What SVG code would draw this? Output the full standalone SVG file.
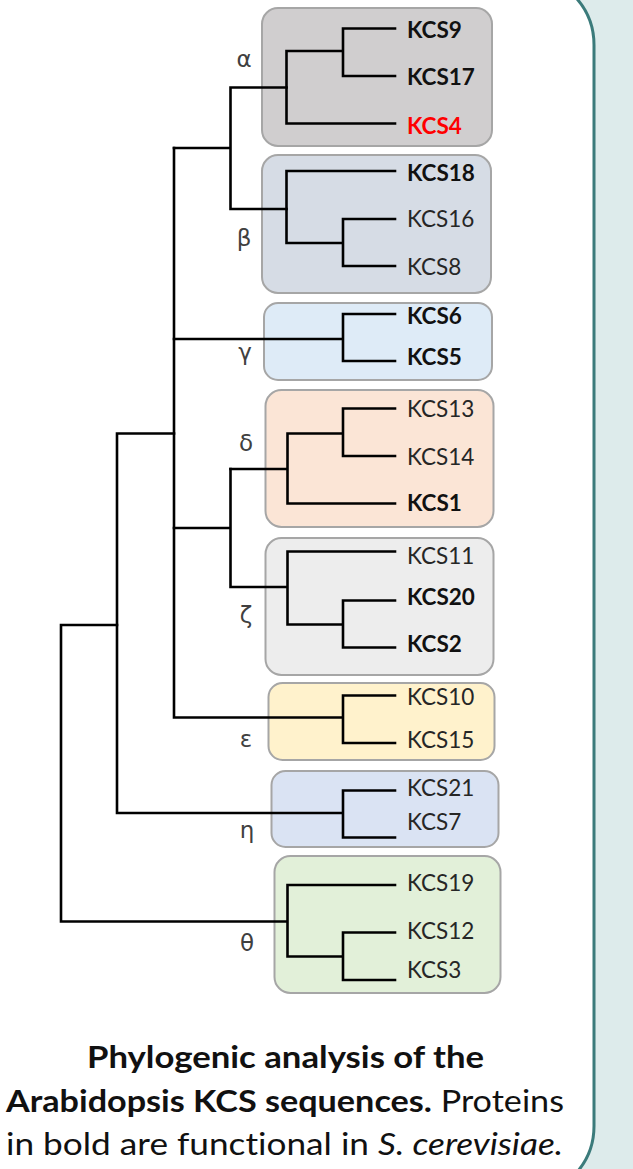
<svg xmlns="http://www.w3.org/2000/svg" width="633" height="1169" viewBox="0 0 633 1169">
<style>
.box{stroke:#A6A6A6;stroke-width:2}
.br{fill:none;stroke:#000;stroke-width:2.6;stroke-linecap:square;stroke-linejoin:miter}
.lb{font-family:Lato,"Open Sans",sans-serif;font-size:22.5px;fill:#262626}
.b{font-weight:bold;fill:#111}
.gk{font-family:"DejaVu Sans",sans-serif;font-size:23px;fill:#404040;text-anchor:middle}
.cap{font-family:Lato,"Open Sans",sans-serif;font-size:31px;fill:#111;font-variant-ligatures:none}
</style>
<rect x="0" y="0" width="633" height="1169" fill="#DDEBEB"/>
<rect x="-100" y="-26" width="694" height="1223" rx="71" ry="71" fill="#FFFFFF" stroke="#3B7B7B" stroke-width="3"/>

<g id="alpha"><rect class="box" x="262" y="8" width="230" height="138" rx="16" fill="#D0CECF"/>
<text class="gk" x="244" y="67">α</text>
<text class="lb b" x="407" y="38">KCS9</text>
<text class="lb b" x="407" y="85">KCS17</text>
<text class="lb b" x="407" y="134" style="fill:#FF0000">KCS4</text></g>

<g id="beta"><rect class="box" x="262" y="155" width="229" height="138" rx="16" fill="#D6DCE5"/>
<text class="gk" x="244" y="246">β</text>
<text class="lb b" x="407" y="181">KCS18</text>
<text class="lb" x="407" y="227">KCS16</text>
<text class="lb" x="407" y="275">KCS8</text></g>

<g id="gamma"><rect class="box" x="264" y="303" width="228" height="77" rx="14" fill="#DEEBF7"/>
<text class="gk" x="245" y="360">γ</text>
<text class="lb b" x="407" y="324">KCS6</text>
<text class="lb b" x="407" y="365">KCS5</text></g>

<g id="delta"><rect class="box" x="265.5" y="390" width="228" height="137" rx="16" fill="#FBE5D6"/>
<text class="gk" x="246" y="451">δ</text>
<text class="lb" x="407" y="417">KCS13</text>
<text class="lb" x="407" y="465">KCS14</text>
<text class="lb b" x="407" y="511">KCS1</text></g>

<g id="zeta"><rect class="box" x="265.5" y="538" width="228" height="137" rx="16" fill="#EDEDED"/>
<text class="gk" x="246" y="623">ζ</text>
<text class="lb" x="407" y="564">KCS11</text>
<text class="lb b" x="407" y="605">KCS20</text>
<text class="lb b" x="407" y="652">KCS2</text></g>

<g id="epsilon"><rect class="box" x="268.5" y="683" width="226" height="77" rx="14" fill="#FFF2CC"/>
<text class="gk" x="246" y="747">ε</text>
<text class="lb" x="407" y="705">KCS10</text>
<text class="lb" x="407" y="748">KCS15</text></g>

<g id="eta"><rect class="box" x="271.5" y="771" width="227" height="76" rx="14" fill="#DAE3F3"/>
<text class="gk" x="247" y="838">η</text>
<text class="lb" x="407" y="796">KCS21</text>
<text class="lb" x="407" y="830">KCS7</text></g>

<g id="theta"><rect class="box" x="274.5" y="856" width="226" height="137" rx="16" fill="#E2F0D9"/>
<text class="gk" x="247" y="951">θ</text>
<text class="lb" x="407" y="891">KCS19</text>
<text class="lb" x="407" y="939">KCS12</text>
<text class="lb" x="407" y="978">KCS3</text></g>

<g id="connectors">
<path class="br" d="M395 28.5H343V76H395M343 51H286.5V123.5H395"/>
<path class="br" d="M395 171H286.5V243H343V219H395M343 243V266H395"/>
<path class="br" d="M286.5 87.5H230.5V209H286.5M230.5 148H174"/>
<path class="br" d="M395 314H343V361H395M343 339H174"/>
<path class="br" d="M395 408.5H343V456H395M343 433.5H287.5V503.5H395M287.5 469H230.5"/>
<path class="br" d="M395 551.5H287.5V624.5H343V600.5H395M343 624.5V647.5H395M287.5 587H230.5V469M230.5 528H174"/>
<path class="br" d="M395 695.5H343V743H395M343 717.5H174V148"/>
<path class="br" d="M174 433.5H117V813H343M395 790.5H343V837.5H395"/>
<path class="br" d="M117 625H61V921.5H287.5M395 885H287.5V956.5H343V932.5H395M343 956.5V980H395"/>
</g>

<g id="caption">
<text class="cap" x="87" y="1068" font-weight="bold" textLength="397" lengthAdjust="spacingAndGlyphs">Phylogenic analysis of the</text>
<text class="cap" x="6" y="1112" textLength="558" lengthAdjust="spacingAndGlyphs"><tspan font-weight="bold">Arabidopsis KCS sequences.</tspan> Proteins</text>
<text class="cap" x="6" y="1155" textLength="557" lengthAdjust="spacingAndGlyphs">in bold are functional in <tspan font-style="italic">S. cerevisiae.</tspan></text>
</g>
</svg>
